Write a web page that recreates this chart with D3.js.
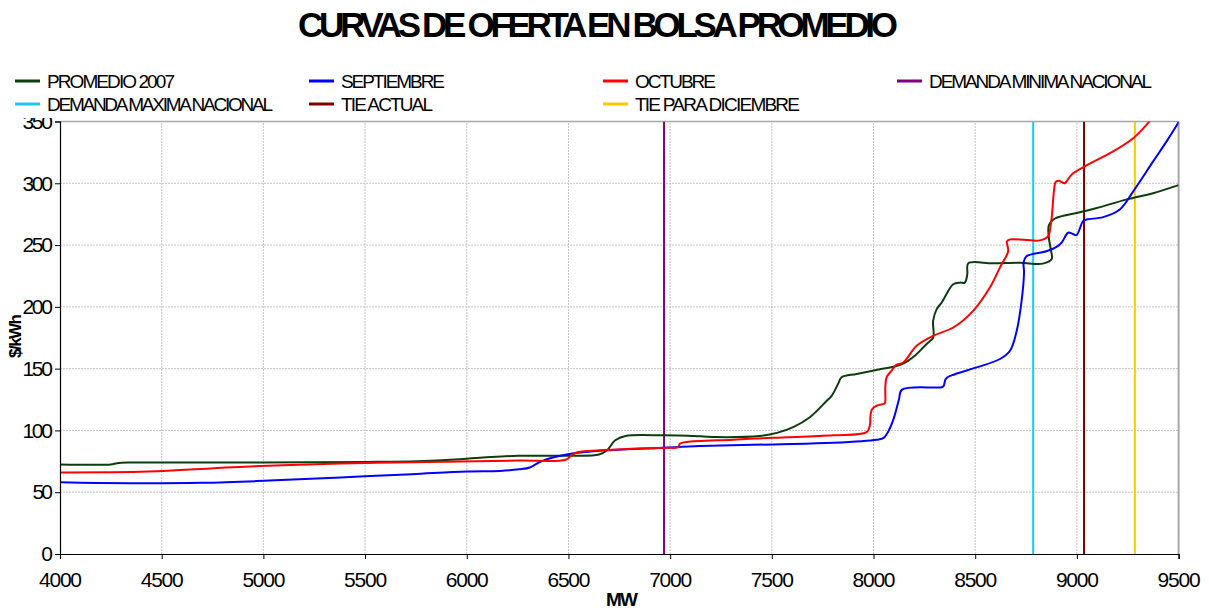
<!DOCTYPE html>
<html>
<head>
<meta charset="utf-8">
<script src="https://cdn.jsdelivr.net/npm/d3@7"></script>
<style>
  html, body { margin: 0; padding: 0; background: #fff; }
  svg { display: block; }
  text { font-family: "Liberation Sans", Arial, sans-serif; fill: #000; }
</style>
</head>
<body>
<svg id="chart" width="1209" height="613"></svg>
<script>
// Offer curves: [MW, $/kWh] pairs in drawing order (curves can step back in MW)
const promedio2007 = [
  [4000,72.5],[4250,72.5],[4280,73.5],[4340,74],[4600,74],[5000,74],[5500,74.5],[5750,75],
  [5900,76],[6080,78],[6250,79.5],[6500,79.5],[6650,80.5],[6690,84],[6730,92],[6780,95.5],
  [6970,96],[7150,95.2],[7230,94.6],[7440,95.5],[7525,98],[7605,102.7],[7687,110.7],[7770,124],
  [7794,128],[7826,137.7],[7843,143],[7917,145.7],[8031,149.5],[8097,151.5],[8146,154],[8200,160],
  [8261,170],[8293,175],[8293,188.7],[8310,198],[8335,203.5],[8392,218.3],[8425,219.6],[8449,219.6],
  [8461,226.4],[8466,235.2],[8587,235.2],[8720,235.7],[8833,235],[8876,238.7],[8872,246],[8862,256],
  [8862,266],[8892,271.5],[9015,276.6],[9098,280],[9246,287],[9374,292],[9500,298.5]
];
const septiembre = [
  [4000,58],[4100,57.6],[4700,57.6],[5030,59.4],[5380,62],[5730,64.6],[6000,66.7],[6163,67.2],
  [6257,68.5],[6310,70],[6360,74.5],[6409,77.5],[6491,80.6],[6688,83.9],[6966,86],[7147,87.3],
  [7507,88.7],[7802,90],[8015,92.5],[8050,94],[8072,99],[8100,110],[8125,125],[8140,133],
  [8335,135],[8345,136],[8356,142],[8400,145.5],[8507,151],[8622,157.8],[8671,164.5],[8704,180.6],
  [8728,204.8],[8740,228],[8738,236],[8752,241],[8850,245],[8900,248.5],[8925,252],[8957,260],
  [8980,259],[8998,258],[9030,269.4],[9047,270.7],[9129,272.6],[9211,278.8],[9277,293.5],
  [9375,317.7],[9441,333.9],[9510,352]
];
const octubre = [
  [4000,66],[4433,66.7],[4853,70.3],[5380,73.2],[5731,74.3],[6257,75.6],[6486,76.3],[6515,79.8],
  [6548,82.5],[6655,83.9],[6966,86],[7040,86.5],[7048,89.3],[7081,90.6],[7310,92.5],[7507,94.1],
  [7802,96],[7966,98.6],[7982,104],[7985,112],[7992,117],[8015,120],[8050,121.5],[8056,122],
  [8058,135],[8064,143],[8089,148.4],[8110,153],[8146,155],[8212,168.5],[8293,176.6],[8392,183.3],
  [8490,196.8],[8572,215.6],[8625,233],[8662,245],[8656,253],[8671,254.6],[8818,253.8],[8859,257.3],
  [8870,265],[8876,272],[8888,295],[8895,301],[8908,302],[8940,300],[8946,300.8],[8974,307],
  [9039,313.7],[9178,325.8],[9277,336.5],[9342,347.3],[9370,353]
];

// Reference levels drawn as vertical lines (MW)
const demandaMinima = 6970;
const demandaMaxima = 8785;
const tieActual = 9035;
const tieDiciembre = 9285;

const xTicks = [4000,4500,5000,5500,6000,6500,7000,7500,8000,8500,9000,9500];
const yTicks = [0,50,100,150,200,250,300,350];

const legendNames = ["PROMEDIO 2007","SEPTIEMBRE","OCTUBRE","DEMANDA MINIMA NACIONAL",
                     "DEMANDA MAXIMA NACIONAL","TIE ACTUAL","TIE PARA DICIEMBRE"];
const legendColors = ["#0d3d0d","#0000ff","#ff0000","#800080","#1ec8f0","#800000","#ffc800"];
const legendWidths = [128,104,81,223,226,92,165];

const svg = d3.select("#chart");
const x = d3.scaleLinear().domain([4000,9500]).range([60,1178.6]);
const y = d3.scaleLinear().domain([0,350]).range([554,121.5]);

// Grid
const grid = svg.append("g");
grid.selectAll(".gx").data(xTicks.slice(1)).join("line")
  .attr("x1", d => x(d)).attr("x2", d => x(d)).attr("y1", y(0)).attr("y2", y(350))
  .attr("stroke", "#c4c4c4").attr("stroke-width", 1).attr("stroke-dasharray", "2,1");
grid.selectAll(".gy").data(yTicks.slice(1)).join("line")
  .attr("x1", x(4000)).attr("x2", x(9500)).attr("y1", d => y(d)).attr("y2", d => y(d))
  .attr("stroke", "#c4c4c4").attr("stroke-width", 1).attr("stroke-dasharray", "2,1");

// Plot frame (top and right)
svg.append("line").attr("x1", x(4000)).attr("x2", x(9500)).attr("y1", y(350)).attr("y2", y(350))
  .attr("stroke", "#a8a8a8").attr("stroke-width", 1.5);
svg.append("line").attr("x1", x(9500)).attr("x2", x(9500)).attr("y1", y(0)).attr("y2", y(350))
  .attr("stroke", "#a8a8a8").attr("stroke-width", 2);

svg.append("clipPath").attr("id", "plotclip").append("rect")
  .attr("x", x(4000)).attr("y", y(350)).attr("width", x(9500) - x(4000)).attr("height", y(0) - y(350));

const plot = svg.append("g").attr("clip-path", "url(#plotclip)");

// Vertical reference lines
const vlines = [
  {v: demandaMinima, c: legendColors[3]},
  {v: demandaMaxima, c: legendColors[4]},
  {v: tieActual, c: legendColors[5]},
  {v: tieDiciembre, c: legendColors[6]}
];
plot.selectAll(".vl").data(vlines).join("line")
  .attr("x1", d => x(d.v)).attr("x2", d => x(d.v)).attr("y1", y(0)).attr("y2", y(350))
  .attr("stroke", d => d.c).attr("stroke-width", 2);

// Curves
const line = d3.line().x(d => x(d[0])).y(d => y(d[1])).curve(d3.curveCatmullRom.alpha(0.5));
const series = [
  {data: promedio2007, c: legendColors[0]},
  {data: septiembre, c: legendColors[1]},
  {data: octubre, c: legendColors[2]}
];
plot.selectAll(".curve").data(series).join("path")
  .attr("d", d => line(d.data)).attr("fill", "none")
  .attr("stroke", d => d.c).attr("stroke-width", 2).attr("stroke-linejoin", "round");

// Axes
const xAxis = svg.append("g").attr("transform", `translate(0,${y(0)})`)
  .call(d3.axisBottom(x).tickValues(xTicks).tickSize(5).tickPadding(13).tickFormat(d3.format("d")));
const yAxis = svg.append("g").attr("transform", `translate(${x(4000)},0)`)
  .call(d3.axisLeft(y).tickValues(yTicks).tickSize(5).tickPadding(2).tickFormat(d3.format("d")));
[xAxis, yAxis].forEach(g => {
  g.select(".domain").attr("stroke", "#000").attr("stroke-width", 1.2);
  g.selectAll(".tick line").attr("stroke", "#000");
  g.selectAll(".tick text").attr("font-size", 21).attr("font-family", "Liberation Sans, Arial, sans-serif")
    .attr("fill", "#000").attr("lengthAdjust", "spacing");
});
xAxis.selectAll(".tick text").attr("textLength", 43);
yAxis.selectAll(".tick text").attr("textLength", d => String(d).length === 1 ? null : String(d).length * 10.2);

// Legend background (covers the overflow above the plot)
svg.append("rect").attr("x", 0).attr("y", 60).attr("width", 1209).attr("height", 58).attr("fill", "#fff");

const legendPos = [
  [15,81],[309,81],[603,81],[897,81],
  [15,104],[309,104],[603,104]
];
const legend = svg.append("g");
legendNames.forEach((name, i) => {
  const [lx, ly] = legendPos[i];
  legend.append("line").attr("x1", lx).attr("x2", lx + 25).attr("y1", ly).attr("y2", ly)
    .attr("stroke", legendColors[i]).attr("stroke-width", 3);
  legend.append("text").attr("x", lx + 32).attr("y", ly + 7).attr("font-size", 19)
    .attr("textLength", legendWidths[i]).attr("lengthAdjust", "spacing").text(name);
});

// Title
svg.append("text").attr("x", 298).attr("y", 37).attr("font-size", 35).attr("font-weight", "bold")
  .attr("textLength", 600).attr("lengthAdjust", "spacing")
  .text("CURVAS DE OFERTA EN BOLSA PROMEDIO");

// Axis titles
svg.append("text").attr("transform", "translate(21,336) rotate(-90)").attr("text-anchor", "middle")
  .attr("font-size", 17).attr("font-weight", "bold").attr("textLength", 44).attr("lengthAdjust", "spacing")
  .text("$/kWh");
svg.append("text").attr("x", 622).attr("y", 606).attr("text-anchor", "middle")
  .attr("font-size", 19).attr("font-weight", "bold").attr("textLength", 32).attr("lengthAdjust", "spacing")
  .text("MW");
</script>
</body>
</html>
